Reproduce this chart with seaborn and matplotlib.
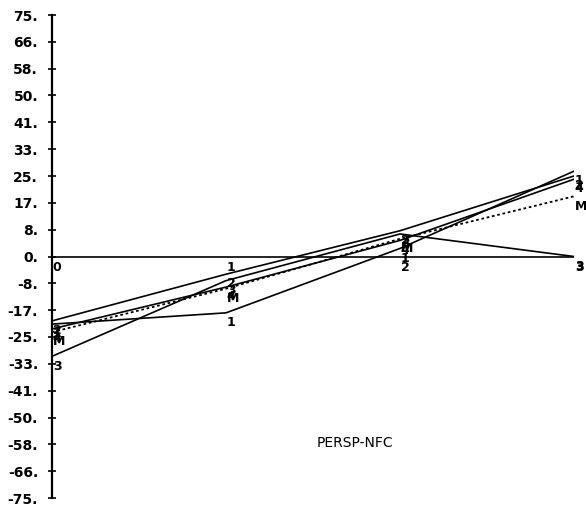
import matplotlib.pyplot as plt
import numpy as np
import pandas as pd
import seaborn as sns

# positions along the profile
x_points = [0, 1, 2, 3]
x_labels = ["0", "1", "2", "3"]

# series values
series_1 = [-21.0, -17.5, 2.5, 26.5]
series_2 = [-20.0, -5.5, 8.0, 25.0]
series_3 = [-31.0, -7.5, 7.0, 0.0]
series_4 = [-22.5, -9.5, 5.0, 24.0]
series_m = [-23.5, -10.0, 5.5, 18.7]

series_names = ["1", "2", "3", "4", "M"]
series_values = [series_1, series_2, series_3, series_4, series_m]

ytick_labels = ["-75.", "-66.", "-58.", "-50.", "-41.", "-33.", "-25.", "-17.", "-8.", "0.",
                "8.", "17.", "25.", "33.", "41.", "50.", "58.", "66.", "75."]

rows = []
for name, vals in zip(series_names, series_values):
    for x, v in zip(x_points, vals):
        rows.append({"series": name, "x": x, "value": v})
data = pd.DataFrame(rows)

sns.set_style("white")
plt.rcParams["font.family"] = ["DejaVu Sans"]
plt.rcParams["text.color"] = "black"
plt.rcParams["ytick.color"] = "black"
plt.rcParams["ytick.labelcolor"] = "black"

fig = plt.figure(figsize=(5.86, 5.08), dpi=100)
ax = fig.add_axes([52 / 586, 10 / 508, 522 / 586, 483 / 508])

# solid lines for the four series, dotted for the mean
sns.lineplot(data=data[data["series"] != "M"], x="x", y="value", units="series",
             estimator=None, color="black", linewidth=1.2, ax=ax)
sns.lineplot(data=data[data["series"] == "M"], x="x", y="value",
             estimator=None, color="black", linewidth=1.3, linestyle=(0, (1.5, 1.5)), ax=ax)

# zero line
ax.axhline(0, color="black", linewidth=1.2, xmin=0, xmax=1)

# point labels
for name, vals in zip(series_names, series_values):
    for x, v in zip(x_points, vals):
        ax.text(x + 0.005, v - 1.0, name, ha="left", va="top", fontsize=9,
                fontweight="bold", color="black", clip_on=False)

# x position labels just under the zero line
for x, lab in zip(x_points, x_labels):
    ax.text(x + 0.005, -1.5, lab, ha="left", va="top", fontsize=9,
            fontweight="bold", color="black", clip_on=False)

ax.text(1.74, -58, "PERSP-NFC", ha="center", va="center", fontsize=10, color="black")

ax.set_xlim(0, 3)
ax.set_ylim(-75, 75)
ax.set_yticks(np.linspace(-75, 75, 19))
ax.set_yticklabels(ytick_labels, fontsize=10, fontweight="bold")
ax.set_xticks([])
ax.set_xlabel("")
ax.set_ylabel("")
ax.tick_params(axis="y", direction="inout", length=6, width=1.2, pad=7, left=True,
               colors="black")

for side in ["top", "right", "bottom"]:
    ax.spines[side].set_visible(False)
ax.spines["left"].set_linewidth(1.6)
ax.spines["left"].set_color("black")
ax.set_facecolor("white")
ax.patch.set_alpha(0)

fig.savefig("out.png", dpi=100, facecolor="white")
